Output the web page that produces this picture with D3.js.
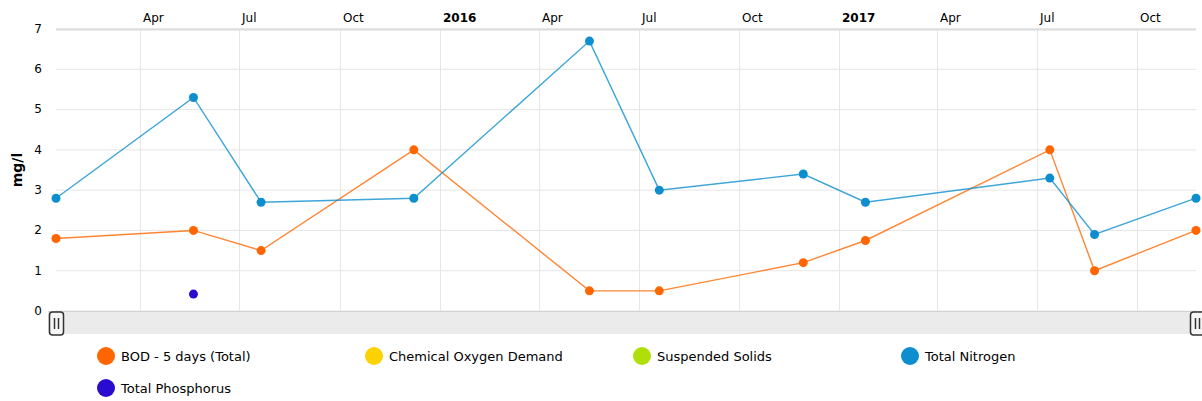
<!DOCTYPE html>
<html>
<head>
<meta charset="utf-8">
<script src="https://cdn.jsdelivr.net/npm/d3@7"></script>
<style>
    body { margin: 0; background: #fff; }
    #chart { width: 1202px; height: 401px; }
    text { font-family: "DejaVu Sans", Verdana, sans-serif; }
</style>
</head>
<body>
<div id="chart"></div>
<script>

// sample dates
var dates = ["2015-01-14", "2015-05-20", "2015-07-21", "2015-12-08", "2016-05-17", "2016-07-20",
    "2016-11-29", "2017-01-25", "2017-07-13", "2017-08-23", "2017-11-24"];

// series values (mg/l), null = no sample
var bod = [1.8, 2.0, 1.5, 4.0, 0.5, 0.5, 1.2, 1.75, 4.0, 1.0, 2.0];
var cod = [null, null, null, null, null, null, null, null, null, null, null];
var suspendedSolids = [null, null, null, null, null, null, null, null, null, null, null];
var nitrogen = [2.8, 5.3, 2.7, 2.8, 6.7, 3.0, 3.4, 2.7, 3.3, 1.9, 2.8];
var phosphorus = [null, 0.42, null, null, null, null, null, null, null, null, null];

var yTicks = [0, 1, 2, 3, 4, 5, 6, 7];
var monthNames = ["Jan", "Feb", "Mar", "Apr", "May", "Jun", "Jul", "Aug", "Sep", "Oct", "Nov", "Dec"];

var seriesNames = ["BOD - 5 days (Total)", "Chemical Oxygen Demand", "Suspended Solids", "Total Nitrogen", "Total Phosphorus"];
var seriesColors = ["#ff6600", "#fcd202", "#b0de09", "#0d8ecf", "#2a0cd0"];
var seriesValues = [bod, cod, suspendedSolids, nitrogen, phosphorus];

var parseDate = d3.timeParse("%Y-%m-%d");

var margin = { top: 29, right: 6, bottom: 90, left: 56 };
var width = 1202 - margin.left - margin.right;
var height = 401 - margin.top - margin.bottom;

var svg = d3.select("#chart")
    .append("svg")
    .attr("width", 1202)
    .attr("height", 401);

var g = svg.append("g")
    .attr("transform", "translate(" + margin.left + "," + margin.top + ")");

var x = d3.scaleTime()
    .domain(d3.extent(dates, function (d) { return parseDate(d); }))
    .range([0, width]);

var y = d3.scaleLinear()
    .domain([0, 7])
    .range([height, 0]);

// grid
g.append("g")
    .selectAll("line")
    .data(yTicks)
    .enter()
    .append("line")
    .attr("x1", 0)
    .attr("x2", width)
    .attr("y1", function (d) { return y(d); })
    .attr("y2", function (d) { return y(d); })
    .style("stroke", "#e6e6e6");

var quarterTicks = x.ticks(d3.timeMonth.every(3));

g.append("g")
    .selectAll("line")
    .data(quarterTicks)
    .enter()
    .append("line")
    .attr("x1", function (d) { return Math.round(x(d)) + 0.5; })
    .attr("x2", function (d) { return Math.round(x(d)) + 0.5; })
    .attr("y1", 0)
    .attr("y2", height)
    .style("stroke", "#e6e6e6");

// top axis line
g.append("line")
    .attr("x1", 0)
    .attr("x2", width)
    .attr("y1", 0.5)
    .attr("y2", 0.5)
    .style("stroke", "#dcdcdc")
    .style("stroke-width", 2);

// top axis labels
g.append("g")
    .selectAll("text")
    .data(quarterTicks)
    .enter()
    .append("text")
    .attr("x", function (d) { return Math.round(x(d)) + 3; })
    .attr("y", -7)
    .style("font-size", "12px")
    .style("fill", "#000")
    .style("font-weight", function (d) { return d.getMonth() == 0 ? "bold" : "normal"; })
    .text(function (d) { return d.getMonth() == 0 ? d.getFullYear() : monthNames[d.getMonth()]; });

// left axis labels
g.append("g")
    .selectAll("text")
    .data(yTicks)
    .enter()
    .append("text")
    .attr("x", -14)
    .attr("y", function (d) { return y(d); })
    .attr("dy", "0.32em")
    .style("text-anchor", "end")
    .style("font-size", "12px")
    .style("fill", "#000")
    .text(function (d) { return d; });

svg.append("text")
    .attr("transform", "translate(22," + (margin.top + height / 2) + ") rotate(-90)")
    .style("text-anchor", "middle")
    .style("font-size", "14px")
    .style("font-weight", "bold")
    .style("fill", "#000")
    .text("mg/l");

// lines and bullets
seriesValues.forEach(function (values, i) {

    var points = dates.map(function (d, j) {
        return { date: parseDate(d), value: values[j] };
    }).filter(function (p) { return p.value != null; });

    var line = d3.line()
        .x(function (d) { return x(d.date); })
        .y(function (d) { return y(d.value); });

    if (points.length > 1) {
        g.append("path")
            .datum(points)
            .attr("fill", "none")
            .attr("stroke", seriesColors[i])
            .attr("stroke-opacity", 0.8)
            .attr("stroke-width", 1.4)
            .attr("d", line);
    }

    g.selectAll(".bullet" + i)
        .data(points)
        .enter()
        .append("circle")
        .attr("class", "bullet" + i)
        .attr("cx", function (d) { return x(d.date); })
        .attr("cy", function (d) { return y(d.value); })
        .attr("r", 4.5)
        .style("fill", seriesColors[i]);
});

// scrollbar
var sb = svg.append("g")
    .attr("transform", "translate(0," + (margin.top + height) + ")");

sb.append("rect")
    .attr("x", 48)
    .attr("y", 0)
    .attr("width", 1202 - 48)
    .attr("height", 23)
    .style("fill", "#ebebeb");

sb.append("line")
    .attr("x1", 48)
    .attr("x2", 1202)
    .attr("y1", 0.5)
    .attr("y2", 0.5)
    .style("stroke", "#d2d2d2");

[49.5, 1190.5].forEach(function (gx) {
    var grip = sb.append("g").attr("transform", "translate(" + gx + ",1)");
    grip.append("rect")
        .attr("width", 14)
        .attr("height", 23)
        .attr("rx", 3)
        .style("fill", "#f6f6f6")
        .style("stroke", "#333")
        .style("stroke-width", 1.5);
    grip.append("line")
        .attr("x1", 5).attr("x2", 5).attr("y1", 6).attr("y2", 17)
        .style("stroke", "#333").style("stroke-width", 1.5);
    grip.append("line")
        .attr("x1", 9).attr("x2", 9).attr("y1", 6).attr("y2", 17)
        .style("stroke", "#333").style("stroke-width", 1.5);
});

// legend
var legend = svg.selectAll(".legend")
    .data(seriesNames)
    .enter()
    .append("g")
    .attr("class", "legend")
    .attr("transform", function (d, i) {
        return "translate(" + (106 + (i % 4) * 268) + "," + (356 + Math.floor(i / 4) * 32) + ")";
    });

legend.append("circle")
    .attr("r", 9)
    .style("fill", function (d, i) { return seriesColors[i]; });

legend.append("text")
    .attr("x", 15)
    .attr("y", 0)
    .attr("dy", "0.35em")
    .style("font-size", "13px")
    .style("fill", "#000")
    .text(function (d) { return d; });

</script>
</body>
</html>
